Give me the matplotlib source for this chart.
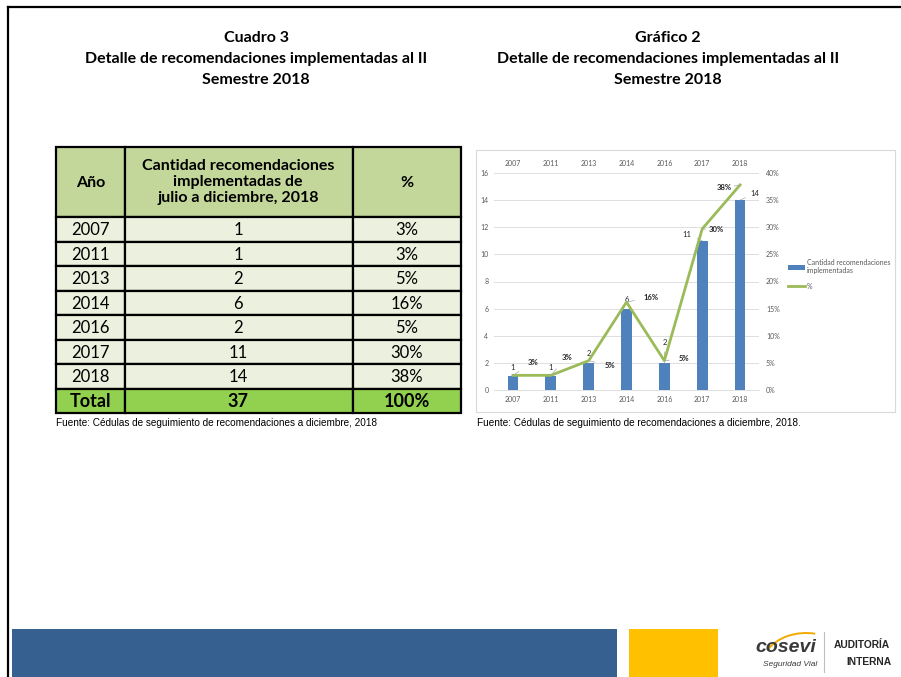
import matplotlib
matplotlib.use('Agg')
import matplotlib.pyplot as plt
from matplotlib import font_manager as fm
from matplotlib.patches import Rectangle, Patch, Arc
from matplotlib.lines import Line2D

plt.rcParams['font.family'] = ['Lato', 'DejaVu Sans']

# datos
anios = ['2007', '2011', '2013', '2014', '2016', '2017', '2018']
cantidad = [1, 1, 2, 6, 2, 11, 14]
pct_tabla = ['3%', '3%', '5%', '16%', '5%', '30%', '38%']
porcentaje = [2.7, 2.7, 5.4, 16.2, 5.4, 29.7, 37.8]
total_cantidad = '37'
total_pct = '100%'
pct_etiquetas = ['3%', '3%', '5%', '16%', '5%', '30%', '38%']

W, H = 901, 677
fig = plt.figure(figsize=(W / 100, H / 100), dpi=100)
fig.patch.set_facecolor('white')

# fuente angosta para el logo, si existe
try:
    fm.findfont('Liberation Sans Narrow', fallback_to_default=False)
    angosta, t_logo = 'Liberation Sans Narrow', 8.5
except Exception:
    angosta, t_logo = 'Liberation Sans', 7.4

# fondo en coordenadas de pixel
bg = fig.add_axes([0, 0, 1, 1], zorder=0)
bg.set_xlim(0, W)
bg.set_ylim(H, 0)
bg.axis('off')

# marco de la diapositiva
bg.plot([8, W], [7, 7], color='black', lw=1.6)
bg.plot([8, 8], [7, H], color='black', lw=1.6)

# titulos
for cx, cab in [(256, 'Cuadro 3'), (668, 'Gráfico 2')]:
    bg.text(cx, 38, cab, ha='center', va='center', fontsize=11.5, fontweight='bold')
    bg.text(cx, 59, 'Detalle de recomendaciones implementadas al II', ha='center', va='center',
            fontsize=11.5, fontweight='bold')
    bg.text(cx, 80, 'Semestre 2018', ha='center', va='center', fontsize=11.5, fontweight='bold')

# ---- tabla ----
cols = [56, 125, 353, 461]
top, head_bot, row_h = 147, 217, 24.5
verde_head = '#C4D79B'
verde_fila = '#EBF1DE'
verde_total = '#92D050'

def celda_fila(y0, y1, color):
    for i in range(3):
        bg.add_patch(Rectangle((cols[i], y0), cols[i + 1] - cols[i], y1 - y0,
                               facecolor=color, edgecolor='black', lw=1.6, zorder=2))

celda_fila(top, head_bot, verde_head)
cx = [(cols[i] + cols[i + 1]) / 2 for i in range(3)]
bg.text(cx[0], 183, 'Año', ha='center', va='center', fontsize=11.5, fontweight='bold', zorder=3)
bg.text(238, 182, 'Cantidad recomendaciones\nimplementadas de\njulio a diciembre, 2018',
        ha='center', va='center', fontsize=11.5, fontweight='bold', linespacing=1.2, zorder=3)
bg.text(407, 183, '%', ha='center', va='center', fontsize=11.5, fontweight='bold', zorder=3)

for i, (a, c, p) in enumerate(zip(anios, cantidad, pct_tabla)):
    y0 = head_bot + i * row_h
    celda_fila(y0, y0 + row_h, verde_fila)
    ym = y0 + row_h / 2 + 1
    bg.text(cx[0], ym, a, ha='center', va='center', fontsize=12, zorder=3)
    bg.text(238, ym, str(c), ha='center', va='center', fontsize=12, zorder=3)
    bg.text(407, ym, p, ha='center', va='center', fontsize=12, zorder=3)

y0 = head_bot + len(anios) * row_h
celda_fila(y0, y0 + row_h, verde_total)
ym = y0 + row_h / 2 + 1
bg.text(cx[0], ym, 'Total', ha='center', va='center', fontsize=13, fontweight='bold', zorder=3)
bg.text(238, ym, total_cantidad, ha='center', va='center', fontsize=13, fontweight='bold', zorder=3)
bg.text(407, ym, total_pct, ha='center', va='center', fontsize=13, fontweight='bold', zorder=3)

bg.text(56, 423, 'Fuente: Cédulas de seguimiento de recomendaciones a diciembre, 2018',
        ha='left', va='center', fontsize=7.2, family='Liberation Sans')

# ---- grafico ----
bg.add_patch(Rectangle((476, 150), 419, 262, facecolor='white', edgecolor='#D9D9D9', lw=0.8))
bg.text(477, 423, 'Fuente: Cédulas de seguimiento de recomendaciones a diciembre, 2018.',
        ha='left', va='center', fontsize=7.2, family='Liberation Sans')

px_l, px_r, px_t, px_b = 494, 759, 173, 390
ax = fig.add_axes([px_l / W, 1 - px_b / H, (px_r - px_l) / W, (px_b - px_t) / H], zorder=2)
ax.patch.set_alpha(0)
azul = '#4F81BD'
verde = '#9BBB59'
gris = '#595959'
x = list(range(len(anios)))

ax.bar(x, cantidad, width=0.28, color=azul, zorder=2)
ax.set_xlim(-0.5, 6.5)
ax.set_ylim(0, 16)
ax.set_yticks(range(0, 17, 2))
ax.grid(axis='y', color='#D9D9D9', lw=0.6, zorder=0)
ax.set_axisbelow(True)
ax.set_xticks(x, anios)
ax.tick_params(length=0, labelsize=5, labelcolor=gris, pad=4)
for s in ['top', 'right', 'left']:
    ax.spines[s].set_visible(False)
ax.spines['bottom'].set_color('#D9D9D9')
ax.spines['bottom'].set_linewidth(0.6)

sec = ax.secondary_xaxis('top')
sec.set_xticks(x, anios)
sec.tick_params(length=0, labelsize=5, labelcolor=gris, pad=4)
sec.spines['top'].set_visible(False)

ax2 = ax.twinx()
ax2.plot(x, porcentaje, color=verde, lw=2, zorder=3)
ax2.set_ylim(0, 40)
ax2.set_yticks(range(0, 41, 5))
ax2.set_yticklabels([f'{v}%' for v in range(0, 41, 5)])
ax2.tick_params(length=0, labelsize=5, labelcolor=gris, pad=5)
for s in ax2.spines.values():
    s.set_visible(False)

# etiquetas de datos (desplazamientos en pixeles)
off_cant = [(0, 9), (0, 9), (0, 9), (0, 9), (0, 20), (-15, 6), (15, 7)]
off_pct = [(20, 13), (16, 18), (21, -5), (25, 5), (20, 2), (14, -1), (-16, -3)]
k = 0.72
for i in x:
    dx, dy = off_cant[i]
    lider = dict(arrowstyle='-', color='#A6A6A6', lw=0.5, shrinkA=2, shrinkB=0) if abs(dx) + dy > 12 else None
    ax.annotate(str(cantidad[i]), (i, cantidad[i]), xytext=(dx * k, dy * k), textcoords='offset points',
                ha='center', va='center', fontsize=5.5, color='#262626', arrowprops=lider, zorder=4)
    dx, dy = off_pct[i]
    ax2.annotate(pct_etiquetas[i], (i, porcentaje[i]), xytext=(dx * k, dy * k), textcoords='offset points',
                 ha='center', va='center', fontsize=5.5, fontweight='bold', color='#262626',
                 arrowprops=dict(arrowstyle='-', color='#A6A6A6', lw=0.5, shrinkA=5, shrinkB=0), zorder=4)

ax2.legend(handles=[Patch(facecolor=azul), Line2D([0], [0], color=verde, lw=2)],
           labels=['Cantidad recomendaciones\nimplementadas', '%'],
           loc='upper left', bbox_to_anchor=(782 / W, 1 - 253 / H), bbox_transform=fig.transFigure,
           frameon=False, fontsize=5, labelcolor=gris, handlelength=2.4, handleheight=0.8,
           handletextpad=0.3, labelspacing=1.2)

# ---- pie de pagina ----
bg.add_patch(Rectangle((12, 629), 605, 48, facecolor='#36608F', edgecolor='none'))
bg.add_patch(Rectangle((629, 629), 89, 48, facecolor='#FFC000', edgecolor='none'))
bg.add_patch(Arc((806, 668), 90, 70, theta1=205, theta2=285, color='#F2A900', lw=1.4, zorder=1))
bg.text(786, 648, 'cosevi', ha='center', va='center', fontsize=14, fontweight='bold',
        fontstyle='italic', color='#3A3A3A', family=angosta, zorder=2)
bg.text(790, 665, 'Seguridad Vial', ha='center', va='center', fontsize=6, fontstyle='italic',
        color='#3A3A3A', family=angosta)
bg.plot([824, 824], [632, 672], color='#BFBFBF', lw=0.8)
bg.text(834, 645, 'AUDITORÍA', ha='left', va='center', fontsize=t_logo, fontweight='bold',
        color='#262626', family=angosta)
bg.text(846, 662, 'INTERNA', ha='left', va='center', fontsize=t_logo, fontweight='bold',
        color='#262626', family=angosta)

fig.savefig('out.png', dpi=100)
